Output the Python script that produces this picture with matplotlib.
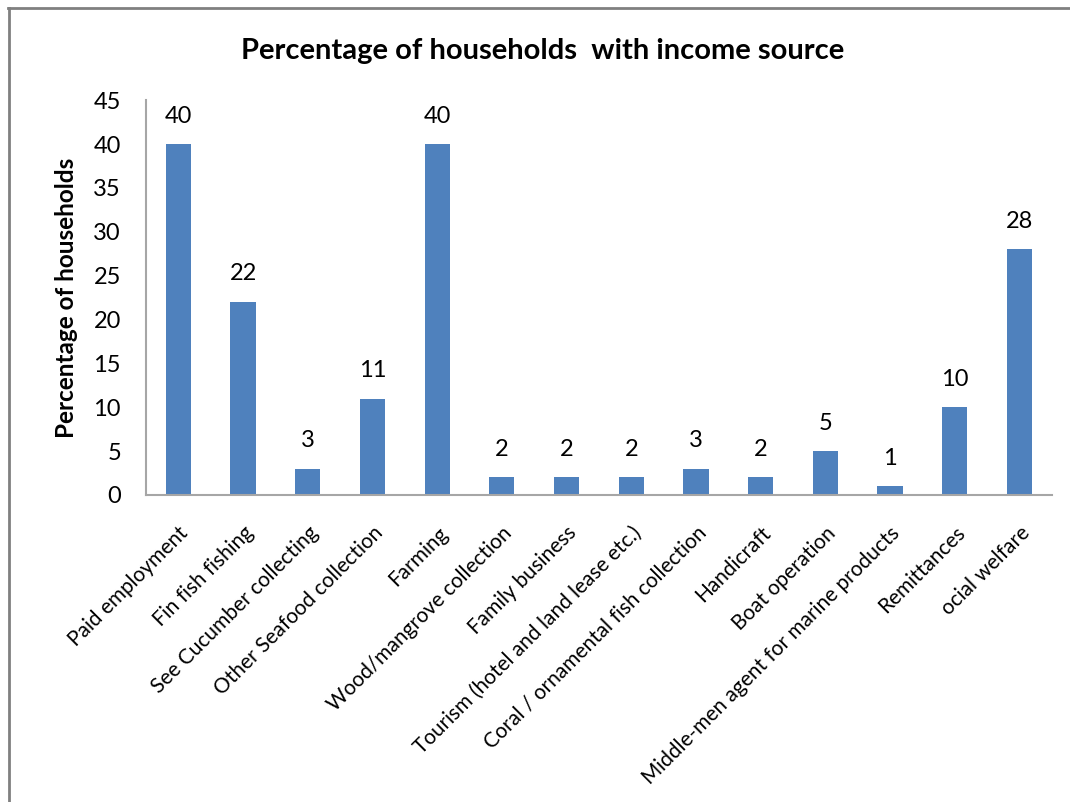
import numpy as np
import matplotlib.pyplot as plt
from matplotlib.lines import Line2D

sources = ["Paid employment", "Fin fish fishing", "See Cucumber collecting",
           "Other Seafood collection", "Farming", "Wood/mangrove collection",
           "Family business", "Tourism (hotel and land lease etc.)",
           "Coral / ornamental fish collection", "Handicraft", "Boat operation",
           "Middle-men agent for marine products", "Remittances", "ocial welfare"]
percent = [40, 22, 3, 11, 40, 2, 2, 2, 3, 2, 5, 1, 10, 28]
y_ticks = [0, 5, 10, 15, 20, 25, 30, 35, 40, 45]

plt.rcParams['font.family'] = ['Lato', 'DejaVu Sans']

fig = plt.figure(figsize=(10.7, 8.02), dpi=100)
ax = fig.add_axes([0.1364, 0.3828, 0.8466, 0.4922])

x = np.arange(len(sources))
ax.bar(x, percent, width=0.39, color="#4F81BD")
for xi, v in zip(x, percent):
    ax.text(xi, v + 2.0, str(v), ha="center", va="bottom", fontsize=17)

ax.set_xlim(-0.5, len(sources) - 0.5)
ax.set_ylim(0, 45)
ax.set_yticks(y_ticks)
ax.tick_params(axis="y", length=0, labelsize=17, pad=18)
ax.tick_params(axis="x", length=0, pad=20)
ax.set_xticks(x)
ax.set_xticklabels(sources, rotation=45, ha="right", rotation_mode="anchor", fontsize=15)

for side in ("top", "right"):
    ax.spines[side].set_visible(False)
for side in ("left", "bottom"):
    ax.spines[side].set_color("#A6A6A6")
    ax.spines[side].set_linewidth(1.5)

ax.set_ylabel("Percentage of households", fontsize=17.5, fontweight="bold", labelpad=11)
fig.text(0.507, 0.937, "Percentage of households  with income source",
         ha="center", va="center", fontsize=21, fontweight="bold")

# frame lines along the top and left of the chart area
fig.add_artist(Line2D([0.0075, 1.0], [0.99, 0.99], transform=fig.transFigure,
                      color="#808080", linewidth=2))
fig.add_artist(Line2D([0.0085, 0.0085], [0.0, 0.99], transform=fig.transFigure,
                      color="#808080", linewidth=2))

fig.savefig("out.png", dpi=100)
